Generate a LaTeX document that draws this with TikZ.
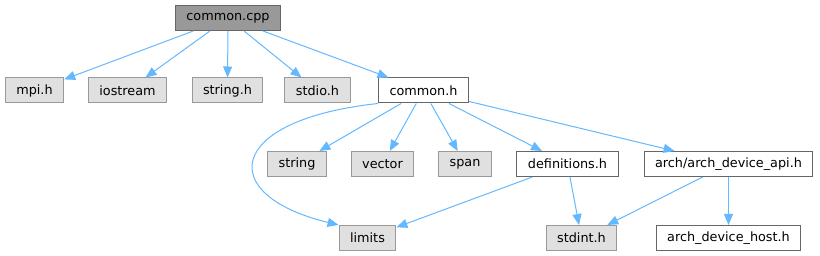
\documentclass[tikz,border=0pt]{standalone}
\usepackage{fontspec}
\setmainfont{DejaVu Sans}
\usepackage{xcolor}
\usepackage{tikz}
\usetikzlibrary{arrows.meta}

\definecolor{edgeblue}{HTML}{63B8FF}
\definecolor{curfill}{HTML}{999999}
\definecolor{sysfill}{HTML}{E0E0E0}
\definecolor{darkline}{HTML}{666666}
\definecolor{sysline}{HTML}{999999}

\begin{document}
\begin{tikzpicture}[
x=1pt, y=-1pt,
font=\fontsize{12.8}{14}\selectfont,
cur/.style={draw=darkline, fill=curfill, line width=1pt, minimum height=25pt, inner xsep=11pt, inner ysep=0pt},
sys/.style={draw=sysline, fill=sysfill, line width=1pt, minimum height=25pt, inner xsep=11pt, inner ysep=0pt},
doc/.style={draw=darkline, fill=white, line width=1pt, minimum height=25pt, inner xsep=11pt, inner ysep=0pt},
arrow/.style={draw=edgeblue, line width=1pt, -{Triangle[length=11pt, width=9pt]}}
]
\useasboundingbox (0,0) rectangle (820,256);

\node[cur] (commoncpp) at (228,18) {common.cpp};
\node[sys] (mpih) at (34.5,90.5) {mpi.h};
\node[sys] (iostream) at (127.5,90.5) {iostream};
\node[sys] (stringh) at (227.5,90.5) {string.h};
\node[sys] (stdioh) at (317.5,90.5) {stdio.h};
\node[doc] (commonh) at (423.5,90.5) {common.h};
\node[sys] (string) at (297,164) {string};
\node[sys] (vector) at (382.5,164) {vector};
\node[sys] (span) at (465,164) {span};
\node[doc] (defs) at (567.5,164) {definitions.h};
\node[doc] (archapi) at (728.5,164) {arch/arch\_device\_api.h};
\node[sys] (limits) at (367.5,238) {limits};
\node[sys] (stdint) at (581.5,238) {stdint.h};
\node[doc] (archhost) at (728.5,238) {arch\_device\_host.h};

\draw[arrow] (commoncpp) -- (mpih);
\draw[arrow] (commoncpp) -- (iostream);
\draw[arrow] (commoncpp) -- (stringh);
\draw[arrow] (commoncpp) -- (stdioh);
\draw[arrow] (commoncpp) -- (commonh);
\draw[arrow] (commonh) -- (string);
\draw[arrow] (commonh) -- (vector);
\draw[arrow] (commonh) -- (span);
\draw[arrow] (commonh) -- (defs);
\draw[arrow] (commonh) -- (archapi);
\draw[arrow] (commonh.south west) .. controls (225,120) and (215,195) .. (limits.north west);
\draw[arrow] (defs) -- (limits);
\draw[arrow] (defs) -- (stdint);
\draw[arrow] (archapi) -- (stdint);
\draw[arrow] (archapi) -- (archhost);
\end{tikzpicture}
\end{document}
